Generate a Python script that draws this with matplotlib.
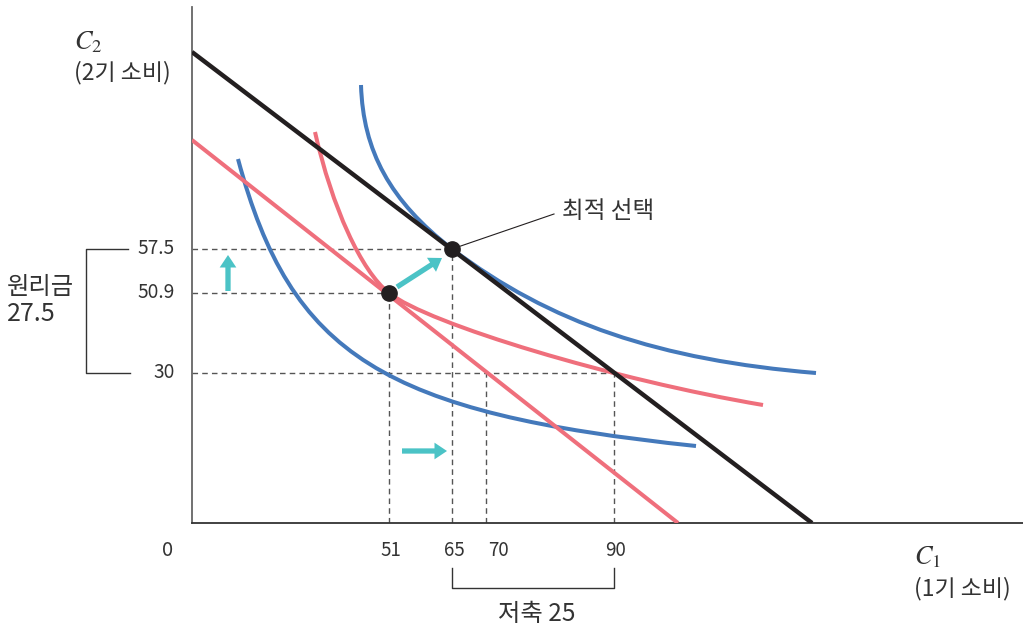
import matplotlib
matplotlib.use("Agg")
import matplotlib.pyplot as plt
from matplotlib.path import Path
from matplotlib.patches import PathPatch, FancyArrowPatch

plt.rcParams['font.family'] = ['Noto Sans CJK KR', 'DejaVu Sans']
plt.rcParams['mathtext.fontset'] = 'stix'

# diagram units (schematic, not to scale)
# budget lines: intercepts on C2 axis and C1 axis
budget_new = [471, 620]
budget_old = [383, 486]

# indifference curves as cubic bezier control points
ic_outer_blue = [(169, 438), (171, 372), (198, 322), (260, 274),
                 (358, 200), (467, 163), (624, 150)]
ic_red = [(123, 391), (140, 316), (169, 252), (197, 230),
          (236, 199), (423, 143), (571, 118)]
ic_inner_blue = [(46, 364), (99, 167), (191, 110), (504, 77)]

# chosen points
old_choice = (197, 230)
new_choice = (260, 274)

# tick positions and labels
x_ticks = [197, 260, 294, 422]
x_tick_labels = ['51', '65', '70', '90']
y_ticks = [150, 230, 274]
y_tick_labels = ['30', '50.9', '57.5']

# arrows (tail, head)
shift_arrows = [((36, 232), (36, 268)),
                ((205, 236), (250, 265)),
                ((210, 72), (255, 72))]

blue = '#4479BB'
red = '#EF6F7C'
teal = '#4BC3C6'
black = '#231F20'
grey = '#555555'
txt = '#333333'

fig = plt.figure(figsize=(10.23, 6.29), dpi=100)
ax = fig.add_axes([192 / 1023, 106 / 629, 831 / 1023, 516 / 629])
ax.set_xlim(0, 831)
ax.set_ylim(0, 516)
ax.set_xticks([])
ax.set_yticks([])
for s in ['top', 'right']:
    ax.spines[s].set_visible(False)
ax.spines['left'].set_color('#666666')
ax.spines['left'].set_linewidth(1.3)
ax.spines['bottom'].set_color('#333333')
ax.spines['bottom'].set_linewidth(1.3)


def draw_curve(pts, color):
    codes = [Path.MOVETO] + [Path.CURVE4] * (len(pts) - 1)
    ax.add_patch(PathPatch(Path(pts, codes), fill=False, edgecolor=color,
                           lw=2.9, capstyle='butt', zorder=3))


draw_curve(ic_inner_blue, blue)
draw_curve(ic_outer_blue, blue)
draw_curve(ic_red, red)

# budget lines
ax.plot([0, budget_old[1]], [budget_old[0], 0], color=red, lw=2.9, zorder=4,
        solid_capstyle='butt')
ax.plot([0, budget_new[1]], [budget_new[0], 0], color=black, lw=3.2, zorder=5,
        solid_capstyle='butt')

# dashed guide lines
dash = dict(color=grey, lw=1.0, ls=(0, (4, 3)), zorder=2)
ax.plot([0, new_choice[0]], [new_choice[1]] * 2, **dash)
ax.plot([0, old_choice[0]], [old_choice[1]] * 2, **dash)
ax.plot([0, x_ticks[3]], [y_ticks[0]] * 2, **dash)
ax.plot([old_choice[0]] * 2, [0, old_choice[1]], **dash)
ax.plot([new_choice[0]] * 2, [0, new_choice[1]], **dash)
ax.plot([x_ticks[2]] * 2, [0, y_ticks[0]], **dash)
ax.plot([x_ticks[3]] * 2, [0, y_ticks[0]], **dash)

# chosen points
ax.plot(*zip(old_choice, new_choice), 'o', color=black, ms=11, zorder=7)

# teal arrows
for tail, head in shift_arrows:
    ax.add_patch(FancyArrowPatch(tail, head,
                                 arrowstyle='simple,head_length=9,head_width=12,tail_width=3.8',
                                 mutation_scale=1, color=teal, lw=0,
                                 shrinkA=0, shrinkB=0, zorder=6))

# tick labels
for x, lab in zip(x_ticks, x_tick_labels):
    dx = 12 if lab == '70' else 2
    ax.text(x + dx, -28, lab, ha='center', va='center', fontsize=13.5, color=txt)
for y, lab in zip(y_ticks, y_tick_labels):
    ax.text(-17, y, lab, ha='right', va='center', fontsize=13.8, color=txt)
ax.text(-24, -28, '0', ha='center', va='center', fontsize=14.5, color=txt)

# axis titles
ax.text(-118, 481, r'$C_2$', ha='left', va='center', fontsize=19, color=txt)
ax.text(-118, 450, '(2기 소비)', ha='left', va='center', fontsize=16.5, color=txt)
ax.text(722, -34, r'$C_1$', ha='left', va='center', fontsize=19, color=txt)
ax.text(722, -66, '(1기 소비)', ha='left', va='center', fontsize=16.5, color=txt)

# optimal choice annotation
ax.plot([new_choice[0], 362], [new_choice[1], 309], color=black, lw=0.8,
        zorder=6)
ax.text(370, 312, '최적 선택', ha='left', va='center', fontsize=17, color=txt)

# bracket for repayment (left)
ax.plot([-64, -106, -106, -62], [y_ticks[2], y_ticks[2], y_ticks[0], y_ticks[0]],
        color=txt, lw=1.0, clip_on=False)
ax.text(-185, 236, '원리금', ha='left', va='center', fontsize=17.5, color=txt)
ax.text(-185, 209, '27.5', ha='left', va='center', fontsize=18, color=txt)

# bracket for saving (bottom)
ax.plot([x_ticks[1], x_ticks[1], x_ticks[3], x_ticks[3]], [-45, -65, -65, -45],
        color=txt, lw=1.0, clip_on=False)
ax.text(345, -91, '저축 25', ha='center', va='center', fontsize=17.5, color=txt)

fig.savefig('out.png', dpi=100)
